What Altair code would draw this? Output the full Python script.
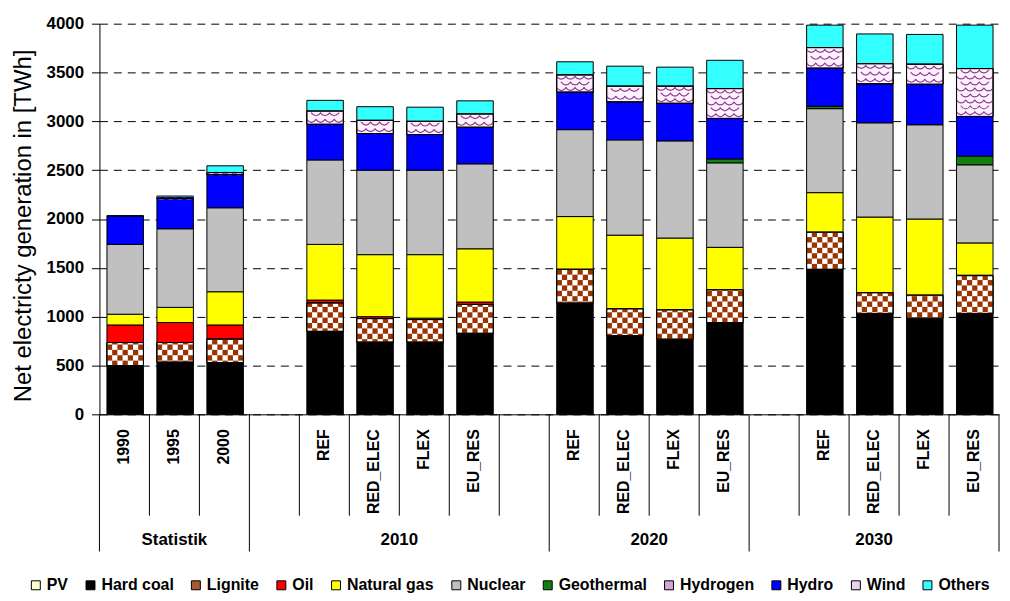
import altair as alt
import pandas as pd

# ---------------- data ----------------
fuels = ["PV", "Hard coal", "Lignite", "Oil", "Natural gas", "Nuclear",
         "Geothermal", "Hydrogen", "Hydro", "Wind", "Others"]
fuel_colors = ["#ffffcc", "#000000", "#a65a2e", "#ff0000", "#ffff00", "#c0c0c0",
               "#108010", "#d5a6d5", "#0000ff", "#ead3ea", "#33ffff"]

slot_labels = ["1990", "1995", "2000",
               "", "REF", "RED_ELEC", "FLEX", "EU_RES", "",
               "REF", "RED_ELEC", "FLEX", "EU_RES",
               "", "REF", "RED_ELEC", "FLEX", "EU_RES"]
slot_groups = ["Statistik"] * 3 + ["2010"] * 6 + ["2020"] * 4 + ["2030"] * 5

# values per bar: 1990, 1995, 2000, 2010 x4, 2020 x4, 2030 x4 (REF, RED_ELEC, FLEX, EU_RES)
pv         = [0, 0, 0,     0, 0, 0, 0,          0, 0, 0, 0,          0, 0, 0, 0]
hard_coal  = [500, 535, 530, 850, 740, 740, 830, 1140, 805, 770, 940, 1485, 1030, 985, 1030]
lignite    = [235, 200, 240, 290, 240, 230, 295, 345, 275, 300, 335, 380, 215, 235, 390]
oil        = [180, 205, 145, 30, 20, 15, 25,    0, 0, 0, 0,          0, 0, 0, 5]
natural_gas = [110, 155, 340, 570, 635, 650, 545, 540, 755, 735, 435, 405, 775, 780, 330]
nuclear    = [715, 805, 860, 865, 865, 865, 870, 890, 975, 995, 865, 860, 965, 965, 800]
geothermal = [0, 0, 0,     0, 0, 0, 0,          0, 0, 0, 40,         25, 0, 0, 90]
hydrogen   = [0, 0, 0,     0, 0, 0, 0,          0, 0, 0, 0,          0, 0, 0, 0]
hydro      = [290, 310, 340, 365, 375, 365, 375, 385, 390, 385, 415, 390, 400, 415, 405]
wind       = [0, 5, 20,    135, 135, 135, 135, 175, 160, 175, 305, 210, 205, 205, 490]
others     = [5, 20, 70,   110, 140, 145, 135, 135, 205, 195, 290, 230, 305, 305, 445]

series = {"PV": pv, "Hard coal": hard_coal, "Lignite": lignite, "Oil": oil,
          "Natural gas": natural_gas, "Nuclear": nuclear, "Geothermal": geothermal,
          "Hydrogen": hydrogen, "Hydro": hydro, "Wind": wind, "Others": others}

y_title = "Net electricty generation in [TWh]"
y_ticks = [0, 500, 1000, 1500, 2000, 2500, 3000, 3500, 4000]

# ---------------- tables ----------------
bar_slots = [i for i, lab in enumerate(slot_labels) if lab]
rows = []
for fi, f in enumerate(fuels):
    for bi, s in enumerate(bar_slots):
        rows.append({"slot": s, "fuel": f, "order": fi, "value": series[f][bi]})
df = pd.DataFrame(rows)

label_df = pd.DataFrame({"pos": [i + 0.5 for i in bar_slots],
                         "label": [slot_labels[i] for i in bar_slots]})

group_names = []
for g in slot_groups:
    if g not in group_names:
        group_names.append(g)
group_df = pd.DataFrame({
    "group": group_names,
    "pos": [(slot_groups.index(g) + len(slot_groups) - slot_groups[::-1].index(g)) / 2
            for g in group_names]})

n = len(slot_labels)
bound_kind = []
for k in range(n + 1):
    if k == 0 or k == n or slot_groups[k] != slot_groups[k - 1]:
        bound_kind.append("full")
    else:
        bound_kind.append("short")
bound_df = pd.DataFrame({"pos": list(range(n + 1)), "kind": bound_kind})

# ---------------- styling ----------------
W, H = 905, 393
FONT = "Liberation Sans, Arial, sans-serif"
xscale = alt.Scale(domain=[0, n], nice=False, zero=False)
yscale = alt.Scale(domain=[0, 4000], nice=False)

xaxis = alt.Axis(labels=False, ticks=False, title=None, grid=False,
                 domainColor="black", domainWidth=1)
yaxis = alt.Axis(values=y_ticks, format="d", title=y_title, grid=True,
                 gridDash=[8, 6], gridColor="black", gridWidth=1,
                 gridOpacity=1, domainColor="black", tickColor="black",
                 tickSize=8, labelPadding=8, labelFont=FONT,
                 labelFontSize=17, labelFontWeight="bold",
                 labelColor="black", titleFont=FONT, titleFontSize=24,
                 titleFontWeight="normal", titleColor="black",
                 titleX=-76, titleY=203, titleAngle=270,
                 titleAlign="center", titleBaseline="middle")


def X(field):
    return alt.X(field, type="quantitative", scale=xscale, axis=xaxis)


def Y(field):
    return alt.Y(field, type="quantitative", scale=yscale, axis=yaxis)


base = (alt.Chart(df)
        .transform_filter("datum.value > 0")
        .transform_stack(stack="value", as_=["y0", "y1"], groupby=["slot"],
                         sort=[alt.SortField("order", order="ascending")])
        .transform_calculate(xa="datum.slot + 0.15", xb="datum.slot + 0.88"))

bars = base.mark_rect(stroke="black", strokeWidth=1).encode(
    x=X("xa"), x2="xb:Q", y=Y("y0"), y2="y1:Q",
    color=alt.Color("fuel:N", sort=fuels,
                    scale=alt.Scale(domain=fuels, range=fuel_colors),
                    legend=alt.Legend(orient="none", legendX=-72, legendY=557,
                                      direction="horizontal", columns=11,
                                      title=None, symbolType="square",
                                      symbolSize=81, symbolStrokeColor="black",
                                      symbolStrokeWidth=1, symbolOpacity=1,
                                      labelFont=FONT, labelFontSize=16,
                                      labelFontWeight="bold", labelColor="black",
                                      labelOffset=3, columnPadding=14,
                                      labelLimit=200)),
)

# lignite checker pattern
lig_base = base.transform_filter("datum.fuel == 'Lignite'").mark_rect(
    fill="white", stroke="black", strokeWidth=1).encode(
    x=X("xa"), x2="xb:Q", y=Y("y0"), y2="y1:Q")

lig_cells = (base.transform_filter("datum.fuel == 'Lignite'")
             .transform_calculate(cols="sequence(0, 7)",
                                  rows="sequence(floor(datum.y0 / 55), ceil(datum.y1 / 55))")
             .transform_flatten(["cols"])
             .transform_flatten(["rows"])
             .transform_filter("(datum.rows + datum.cols) % 2 == 0")
             .transform_calculate(
                 cy0="max(datum.rows * 55, datum.y0)",
                 cy1="min((datum.rows + 1) * 55, datum.y1)",
                 cx0="datum.xa + datum.cols * (datum.xb - datum.xa) / 7",
                 cx1="datum.xa + (datum.cols + 1) * (datum.xb - datum.xa) / 7")
             .transform_filter("datum.cy1 > datum.cy0")
             .mark_rect(fill="#993300")
             .encode(x=X("cx0"), x2="cx1:Q", y=Y("cy0"), y2="cy1:Q"))

# wind scale pattern
wind_base = base.transform_filter("datum.fuel == 'Wind'").mark_rect(
    fill="#fdf2fd", stroke="black", strokeWidth=1).encode(
    x=X("xa"), x2="xb:Q", y=Y("y0"), y2="y1:Q")

wind_arcs = (base.transform_filter("datum.fuel == 'Wind'")
             .transform_calculate(nr="max(1, round((datum.y1 - datum.y0) / 65))")
             .transform_calculate(cols="sequence(0, 4)", rows="sequence(0, datum.nr)")
             .transform_flatten(["cols"])
             .transform_flatten(["rows"])
             .transform_filter("datum.cols + 0.5 * (datum.rows % 2) <= 3")
             .transform_calculate(
                 px="datum.xa + (datum.cols + 0.5 + 0.5 * (datum.rows % 2)) * (datum.xb - datum.xa) / 4",
                 py="datum.y0 + (datum.rows + 0.5) * (datum.y1 - datum.y0) / datum.nr")
             .mark_point(shape="M -1 -0.35 Q 0 0.9 1 -0.35", filled=False,
                         color="#8e3c8e", strokeWidth=1.2, size=100, opacity=1)
             .encode(x=X("px"), y=Y("py")))

outline = (base.transform_filter("datum.fuel == 'Lignite' || datum.fuel == 'Wind'")
           .mark_rect(fill="white", fillOpacity=0, stroke="black", strokeWidth=1)
           .encode(x=X("xa"), x2="xb:Q", y=Y("y0"), y2="y1:Q"))

# category axis: labels, separators, group labels
cat_labels = alt.Chart(label_df).mark_text(
    angle=270, align="right", baseline="middle", font=FONT, fontSize=16,
    fontWeight="bold", color="black").encode(
    x=X("pos"), y=alt.value(H + 15), text="label:N")

short_lines = alt.Chart(bound_df).transform_filter("datum.kind == 'short'").mark_rule(
    color="black", strokeWidth=1).encode(
    x=X("pos"), y=alt.value(H), y2=alt.value(H + 102))

full_lines = alt.Chart(bound_df).transform_filter("datum.kind == 'full'").mark_rule(
    color="black", strokeWidth=1).encode(
    x=X("pos"), y=alt.value(H), y2=alt.value(H + 138))

group_labels = alt.Chart(group_df).mark_text(
    align="center", baseline="middle", font=FONT, fontSize=17, fontWeight="bold",
    color="black").encode(
    x=X("pos"), y=alt.value(H + 126), text="group:N")

chart = (alt.layer(bars, lig_base, lig_cells, wind_base, wind_arcs, outline,
                   short_lines, full_lines, cat_labels, group_labels)
         .properties(width=W, height=H,
                     padding={"left": 92, "top": 14, "right": 3, "bottom": 183},
                     autosize=alt.AutoSizeParams(type="none"))
         .configure(background="white")
         .configure_view(strokeWidth=0))

chart.save("out.html", embed_options={"renderer": "svg", "actions": False})
